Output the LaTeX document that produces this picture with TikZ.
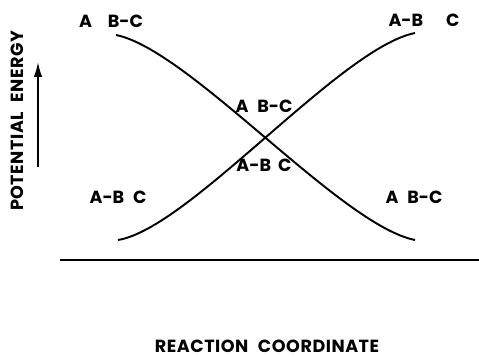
\documentclass[tikz,border=0pt]{standalone}
\usepackage{fontspec}
\setmainfont{Poppins}
\usetikzlibrary{arrows.meta}
\begin{document}
\begin{tikzpicture}[x=0.02cm,y=-0.02cm,
    curve/.style={line width=1.1pt},
    lbl/.style={font=\fontsize{10}{12}\selectfont\bfseries,inner sep=0pt},
    axlbl/.style={lbl,font=\fontsize{10}{12}\selectfont\bfseries\addfontfeatures{LetterSpace=3}}]
    \useasboundingbox (0,0) rectangle (479,357);
    % potential energy curves
    \coordinate (abcL) at (116,35);
    \coordinate (abcR) at (415,240);
    \coordinate (abL) at (118,240);
    \coordinate (abR) at (415,33);
    \draw[curve] (abcL) .. controls (190,50) and (340,225) .. (abcR);
    \draw[curve] (abL) .. controls (190,228) and (340,48) .. (abR);
    % axes
    \coordinate (baseL) at (60,260);
    \coordinate (baseR) at (479,260);
    \draw[line width=1pt] (baseL) -- (baseR);
    \coordinate (arrBot) at (38,167);
    \coordinate (arrTop) at (38,62);
    \draw[line width=1pt,-{Latex[length=3mm,width=1.7mm]}] (arrBot) -- (arrTop);
    \node[axlbl,rotate=90] (energy) at (17,121) {POTENTIAL\hspace{0.3em} ENERGY};
    \node[axlbl] (coord) at (267,346) {REACTION\hspace{0.3em} COORDINATE};
    % species labels
    \node[lbl] (topL) at (111,21) {A\hspace{0.9em}B-C};
    \node[lbl] (topR) at (424,20) {A-B\hspace{1.3em}C};
    \node[lbl] (midU) at (264,106) {A\hspace{0.5em}B-C};
    \node[lbl] (midD) at (264,165) {A-B\hspace{0.4em}C};
    \node[lbl] (lowL) at (118,197) {A-B\hspace{0.5em}C};
    \node[lbl] (lowR) at (414,197) {A\hspace{0.5em}B-C};
\end{tikzpicture}
\end{document}
